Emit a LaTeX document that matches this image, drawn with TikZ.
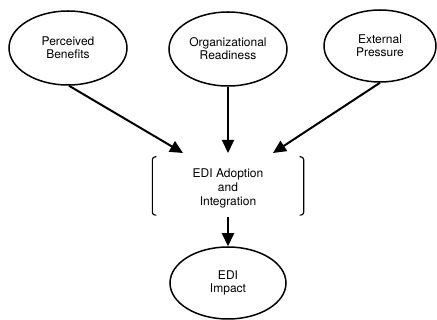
\documentclass[tikz,border=0pt]{standalone}
\usepackage{fontspec}
\setmainfont{TeX Gyre Heros}
\usetikzlibrary{shapes.geometric,arrows.meta,calc}
\tikzset{
  factor/.style={ellipse,draw,line width=1.5pt,inner sep=0pt,
    minimum width=118pt,minimum height=74pt,align=center,
    font=\fontsize{12}{13}\selectfont},
  arr/.style={line width=2pt,-{Triangle[length=13pt,width=12pt]}},
  bracket/.style={line width=1.1pt,rounded corners=3pt}
}
\begin{document}
\begin{tikzpicture}[x=1pt,y=-1pt]
\useasboundingbox (0,0) rectangle (437,320);
% antecedent factors
\node[factor] (pb) at (68,48) {Perceived\\Benefits};
\node[factor] (or) at (228,49) {Organizational\\Readiness};
\node[factor,minimum width=112pt,minimum height=72pt] (ep) at (380,46) {External\\Pressure};
% adoption stage, set in square brackets
\node[align=center,minimum width=151pt,minimum height=58pt,inner sep=0pt,
  font=\fontsize{12}{14}\selectfont] (ad) at (228,186) {};
\node[align=center,font=\fontsize{12}{14}\selectfont] (adt) at (228,188) {EDI Adoption\\and\\Integration};
\draw[bracket] ($(ad.north west)+(4,0)$) -- (ad.north west) -- (ad.south west) -- ($(ad.south west)+(4,0)$);
\draw[bracket] ($(ad.north east)+(-4,0)$) -- (ad.north east) -- (ad.south east) -- ($(ad.south east)+(-4,0)$);
% outcome
\node[factor,minimum width=116pt,minimum height=72pt] (im) at (228,283) {EDI\\Impact};
% influence arrows
\coordinate (inl) at (183,153);
\coordinate (inm) at (228,153);
\coordinate (inr) at (273,153);
\draw[arr] (pb.south) ++(1,0) -- (inl);
\draw[arr] (or.south) -- (inm);
\draw[arr] (ep.south) -- (inr);
\draw[arr] ($(ad.south)+(0,2)$) -- (im.north);
\end{tikzpicture}
\end{document}
